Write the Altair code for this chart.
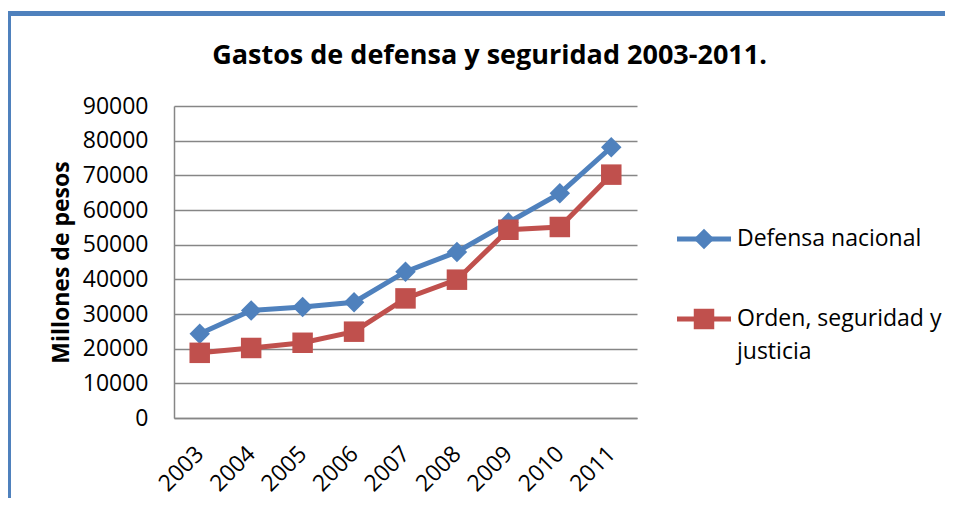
import altair as alt
import pandas as pd

years = ["2003", "2004", "2005", "2006", "2007", "2008", "2009", "2010", "2011"]
defensa = [24300, 31000, 32000, 33400, 42200, 47900, 56400, 64800, 78100]
orden = [18800, 20200, 21700, 24900, 34500, 39900, 54300, 55100, 70200]
series_names = ["Defensa nacional", "Orden, seguridad y justicia"]
legend_labels = ["Defensa nacional", "Orden, seguridad y\njusticia"]
y_ticks = [0, 10000, 20000, 30000, 40000, 50000, 60000, 70000, 80000, 90000]
title_text = "Gastos de defensa y seguridad 2003-2011."
y_title = "Millones de pesos"

colors = ["#4F81BD", "#C0504D"]
shapes = ["diamond", "square"]
FONT = "Open Sans"
GRID = "#868686"
FRAME = "#4F81BD"

df = pd.DataFrame({
    "year": years * 2,
    "value": defensa + orden,
    "series": [series_names[0]] * len(years) + [series_names[1]] * len(years),
})
leg = pd.DataFrame({"series": series_names, "label": legend_labels})
one = pd.DataFrame({"t": [title_text]})

color = alt.Color("series:N", scale=alt.Scale(domain=series_names, range=colors), legend=None)
shape = alt.Shape("series:N", scale=alt.Scale(domain=series_names, range=shapes), legend=None)

x = alt.X(
    "year:O",
    scale=alt.Scale(type="point", padding=0.5),
    axis=alt.Axis(
        title=None, labelAngle=315, labelAlign="right", labelBaseline="middle",
        labelPadding=32, ticks=False, domainColor=GRID, domainWidth=1.5,
        labelFont=FONT, labelFontSize=23, labelColor="black", grid=False,
    ),
)
yscale = alt.Scale(domain=[0, 90000], nice=False, zero=True)
y_axis = alt.Y(
    "value:Q",
    scale=yscale,
    axis=alt.Axis(
        values=y_ticks, format="d", grid=True, gridColor=GRID, gridWidth=1.5,
        domainColor=GRID, domainWidth=1.5, ticks=False, labelPadding=26,
        labelFont=FONT, labelFontSize=23, labelColor="black",
        title=y_title, titleFont=FONT, titleFontSize=23, titleFontWeight="bold",
        titleColor="black", titleAngle=270, titleX=-113, titleY=156,
        titleBaseline="middle", titleAlign="center",
    ),
)
y_noaxis = alt.Y("value:Q", scale=yscale, axis=None)

line = alt.Chart(df).mark_line(strokeWidth=5).encode(x=x, y=y_axis, color=color)
points = alt.Chart(df).mark_point(filled=True, size=420, opacity=1).encode(
    x=x, y=y_noaxis, color=color, shape=shape
)

ly = alt.Y("series:N", scale=alt.Scale(type="point", padding=0, domain=series_names, range=[133, 213]), axis=None)
leg_rule = alt.Chart(leg).mark_rule(strokeWidth=5).encode(
    y=ly, x=alt.value(503), x2=alt.value(557), color=color
)
leg_pt = alt.Chart(leg).mark_point(filled=True, size=420, opacity=1).encode(
    y=ly, x=alt.value(530), color=color, shape=shape
)
leg_txt = alt.Chart(leg).mark_text(
    align="left", baseline="top", dy=-11, lineBreak="\n", lineHeight=33,
    font=FONT, fontSize=23, color="black",
).encode(y=ly, x=alt.value(563), text="label:N")

frame_top = alt.Chart(one).mark_rule(color=FRAME, strokeWidth=5).encode(
    x=alt.value(-169), x2=alt.value(780), y=alt.value(-92.5)
)
frame_left = alt.Chart(one).mark_rule(color=FRAME, strokeWidth=5).encode(
    x=alt.value(-165.5), y=alt.value(-95), y2=alt.value(400)
)
title_mark = alt.Chart(one).mark_text(
    font=FONT, fontSize=27, fontWeight="bold", align="center",
    baseline="alphabetic", color="black",
).encode(text="t:N", x=alt.value(315.5), y=alt.value(-42))

chart = alt.layer(
    frame_top, frame_left, title_mark, line, points, leg_rule, leg_pt, leg_txt
).resolve_scale(y="independent").properties(
    width=463, height=312,
    autosize=alt.AutoSizeParams(type="none"),
    padding={"left": 166, "top": 98, "right": 308, "bottom": 80},
    background="white",
).configure_view(stroke=None)

chart.save("out.html", embed_options={"renderer": "svg", "actions": False})
